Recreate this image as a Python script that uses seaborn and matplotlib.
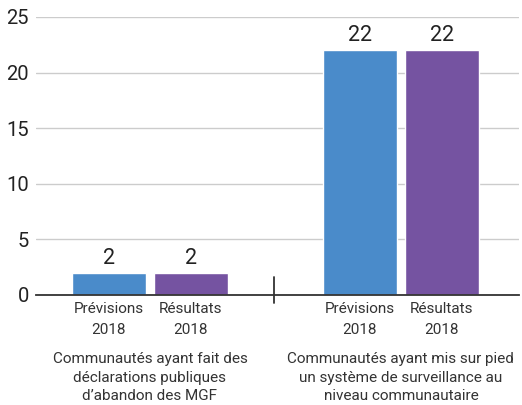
import matplotlib
matplotlib.use("Agg")
import matplotlib.pyplot as plt
import matplotlib.transforms as mtransforms
import pandas as pd
import seaborn as sns

# Data
groups = [
    "Communautés ayant fait des\ndéclarations publiques\nd’abandon des MGF",
    "Communautés ayant mis sur pied\nun système de surveillance au\nniveau communautaire",
]
series = ["Prévisions 2018", "Résultats 2018"]
bar_labels = ["Prévisions\n2018", "Résultats\n2018"]
previsions = [2, 22]
resultats = [2, 22]
colors = ["#4a8bca", "#7553a1"]

group_gap = 3.06  # distance between first bars of successive groups

rows = []
for gi, g in enumerate(groups):
    for si, (s, vals) in enumerate(zip(series, [previsions, resultats])):
        rows.append({"pos": gi * group_gap + si, "value": vals[gi],
                     "series": s, "group": g, "label": bar_labels[si]})
df = pd.DataFrame(rows)

sns.set_theme(style="white")
plt.rcParams["font.family"] = ["Roboto", "DejaVu Sans"]

fig = plt.figure(figsize=(5.22, 4.05), dpi=100)
ax = fig.add_axes([36 / 522, (405 - 295) / 405, 483 / 522, 278 / 405])

sns.barplot(data=df, x="pos", y="value", hue="series", palette=colors,
            native_scale=True, dodge=False, width=0.90, ax=ax,
            legend=False, saturation=1, errorbar=None)

ax.set_xlim(-0.89, 5.0)
ax.set_ylim(0, 25)
ax.set_yticks([0, 5, 10, 15, 20, 25])
ax.yaxis.grid(True, color="#cccccc", linewidth=1)
ax.set_axisbelow(True)
for side in ["top", "right", "left"]:
    ax.spines[side].set_visible(False)
ax.spines["bottom"].set_color("#333333")
ax.spines["bottom"].set_linewidth(1.3)
ax.spines["bottom"].set_zorder(5)

ax.tick_params(axis="y", length=0, pad=5, labelsize=14.5, labelcolor="#222222")
ax.set_xticks(df["pos"].tolist())
ax.set_xticklabels(df["label"].tolist(), fontsize=11, color="#333333",
                   linespacing=1.6)
ax.tick_params(axis="x", length=0, pad=5)
ax.set_xlabel("")
ax.set_ylabel("")

# value labels
for container in ax.containers:
    ax.bar_label(container, fmt="%g", padding=3, fontsize=15.5, color="#222222")

# separator between groups
sep = (1 + group_gap) / 2 - 0.02
ax.axvline(sep, ymin=-8 / 278, ymax=18 / 278, color="#333333",
           linewidth=1.3, clip_on=False)

# group labels
trans = mtransforms.blended_transform_factory(ax.transData, ax.transAxes)
for gi, g in enumerate(groups):
    xc = gi * group_gap + 0.5
    ax.text(xc, -57 / 278, g, transform=trans, ha="center", va="top",
            fontsize=11, color="#333333", linespacing=1.42)

fig.savefig("out.png", dpi=100)
